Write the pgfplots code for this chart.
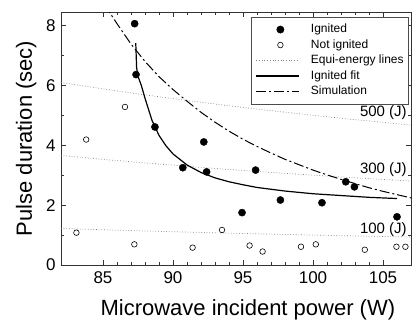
\documentclass[border=0pt]{standalone}
\usepackage{fontspec}
\setmainfont{Liberation Sans}
\usepackage{pgfplots}
\pgfplotsset{compat=1.18}
\begin{document}
\begin{tikzpicture}
\begin{axis}[
  scale only axis, width=350pt, height=253pt,
  xmin=82, xmax=107, ymin=0, ymax=8.45,
  xtick={85,90,95,100,105}, ytick={0,2,4,6,8},
  minor x tick num=4, minor y tick num=1,
  tick align=inside, tick pos=both,
  major tick length=5pt, minor tick length=3pt,
  axis line style={black!80, line width=0.8pt},
  every tick/.style={black!80, line width=0.8pt},
  /pgf/number format/assume math mode=true,
  ticklabel style={font=\fontsize{17}{17}\selectfont},
  xticklabel style={yshift=-3pt},
  yticklabel style={xshift=-2pt},
  xlabel={Microwave incident power (W)},
  ylabel={Pulse duration (sec)},
  label style={font=\fontsize{22}{22}\selectfont},
  xlabel style={at={(axis description cs:0.534,0)}, anchor=base, yshift=-50pt},
  ylabel style={at={(axis description cs:-0.083,0.5)}, anchor=base},
  legend style={at={(1,1)}, anchor=north east, xshift=-2pt, yshift=-5pt,
    draw=black!70, line width=0.6pt, font=\fontsize{12}{12}\selectfont,
    inner xsep=4pt, inner ysep=5.5pt, row sep=2pt, column sep=10pt,
    cells={anchor=west},
    nodes={inner sep=1pt, text height=9pt, text depth=2.5pt}},
  legend image code/.code={\draw[mark repeat=2,mark phase=2,#1] plot coordinates {(0pt,0pt) (24pt,0pt) (43pt,0pt)};},
]
% legend images
\addlegendimage{only marks, mark=*, black, mark size=3.6pt}
\addlegendentry{Ignited}
\addlegendimage{only marks, mark=o, black, mark size=2.8pt, line width=0.6pt}
\addlegendentry{Not ignited}
\addlegendimage{gray, dotted, line width=0.7pt}
\addlegendentry{Equi-energy lines}
\addlegendimage{black, line width=1.2pt}
\addlegendentry{Ignited fit}
\addlegendimage{black, line width=1pt, dash pattern=on 10pt off 3pt on 2pt off 3pt}
\addlegendentry{Simulation}

% equi-energy lines
\addplot[gray, dotted, line width=0.7pt, forget plot] coordinates {
(82,6.098) (85,5.882) (88,5.682) (91,5.495) (94,5.319) (97,5.155) (100,5.000) (103,4.854) (107,4.673)};
\addplot[gray, dotted, line width=0.7pt, forget plot] coordinates {
(82,3.659) (85,3.529) (88,3.409) (91,3.297) (94,3.191) (97,3.093) (100,3.000) (103,2.913) (107,2.804)};
\addplot[gray, dotted, line width=0.7pt, forget plot] coordinates {
(82,1.220) (85,1.176) (88,1.136) (91,1.099) (94,1.064) (97,1.031) (100,1.000) (103,0.971) (107,0.935)};

% ignited fit
\addplot[black, line width=1.2pt, forget plot] coordinates {
(87.34,7.41) (87.40,6.60) (87.50,6.30) (87.75,5.98) (88.00,5.57) (88.50,4.83) (89.00,4.33)
(89.50,3.98) (90.00,3.71) (91.00,3.34) (92.00,3.09) (93.00,2.91) (94.00,2.78) (95.00,2.68)
(96.00,2.59) (98.00,2.47) (100.00,2.38) (102.00,2.32) (104.00,2.26) (106.00,2.22)};

% simulation
\addplot[black, line width=1pt, dash pattern=on 10pt off 3pt on 2pt off 3pt, forget plot] coordinates {
(85.1,8.70) (86,8.06) (87,7.38) (88,6.80) (89,6.29) (90,5.86) (91,5.47) (92,5.10) (93,4.77)
(94,4.47) (95,4.20) (96,3.96) (97,3.74) (98,3.53) (99,3.35) (100,3.17) (101,3.01) (102,2.86)
(103,2.72) (104,2.58) (105,2.46) (106,2.35) (107,2.24)};

% not ignited
\addplot[only marks, mark=o, black, mark size=2.8pt, line width=0.6pt, forget plot] coordinates {
(83.10,1.08) (83.80,4.19) (86.57,5.28) (87.24,0.69) (91.40,0.58) (93.50,1.17) (95.47,0.65)
(96.40,0.45) (99.14,0.61) (100.20,0.69) (103.70,0.51) (105.96,0.61) (106.60,0.61)};

% ignited
\addplot[only marks, mark=*, black, mark size=3.6pt, forget plot] coordinates {
(87.26,8.06) (87.36,6.36) (88.71,4.61) (90.70,3.25) (92.20,4.11) (92.40,3.11) (94.93,1.75)
(95.90,3.17) (97.67,2.17) (100.64,2.08) (102.34,2.78) (102.96,2.61) (106.00,1.61)};

\node[anchor=east, inner sep=0pt, font=\fontsize{15}{15}\selectfont] at (axis cs:106.71,5.1) {500 (J)};
\node[anchor=east, inner sep=0pt, font=\fontsize{15}{15}\selectfont] at (axis cs:106.71,3.17) {300 (J)};
\node[anchor=east, inner sep=0pt, font=\fontsize{15}{15}\selectfont] at (axis cs:106.71,1.17) {100 (J)};
\end{axis}
\pgfresetboundingbox
\path[use as bounding box] (current axis.south west) ++(-61pt,-60pt) rectangle ++(412pt,325pt);
\end{tikzpicture}
\end{document}
